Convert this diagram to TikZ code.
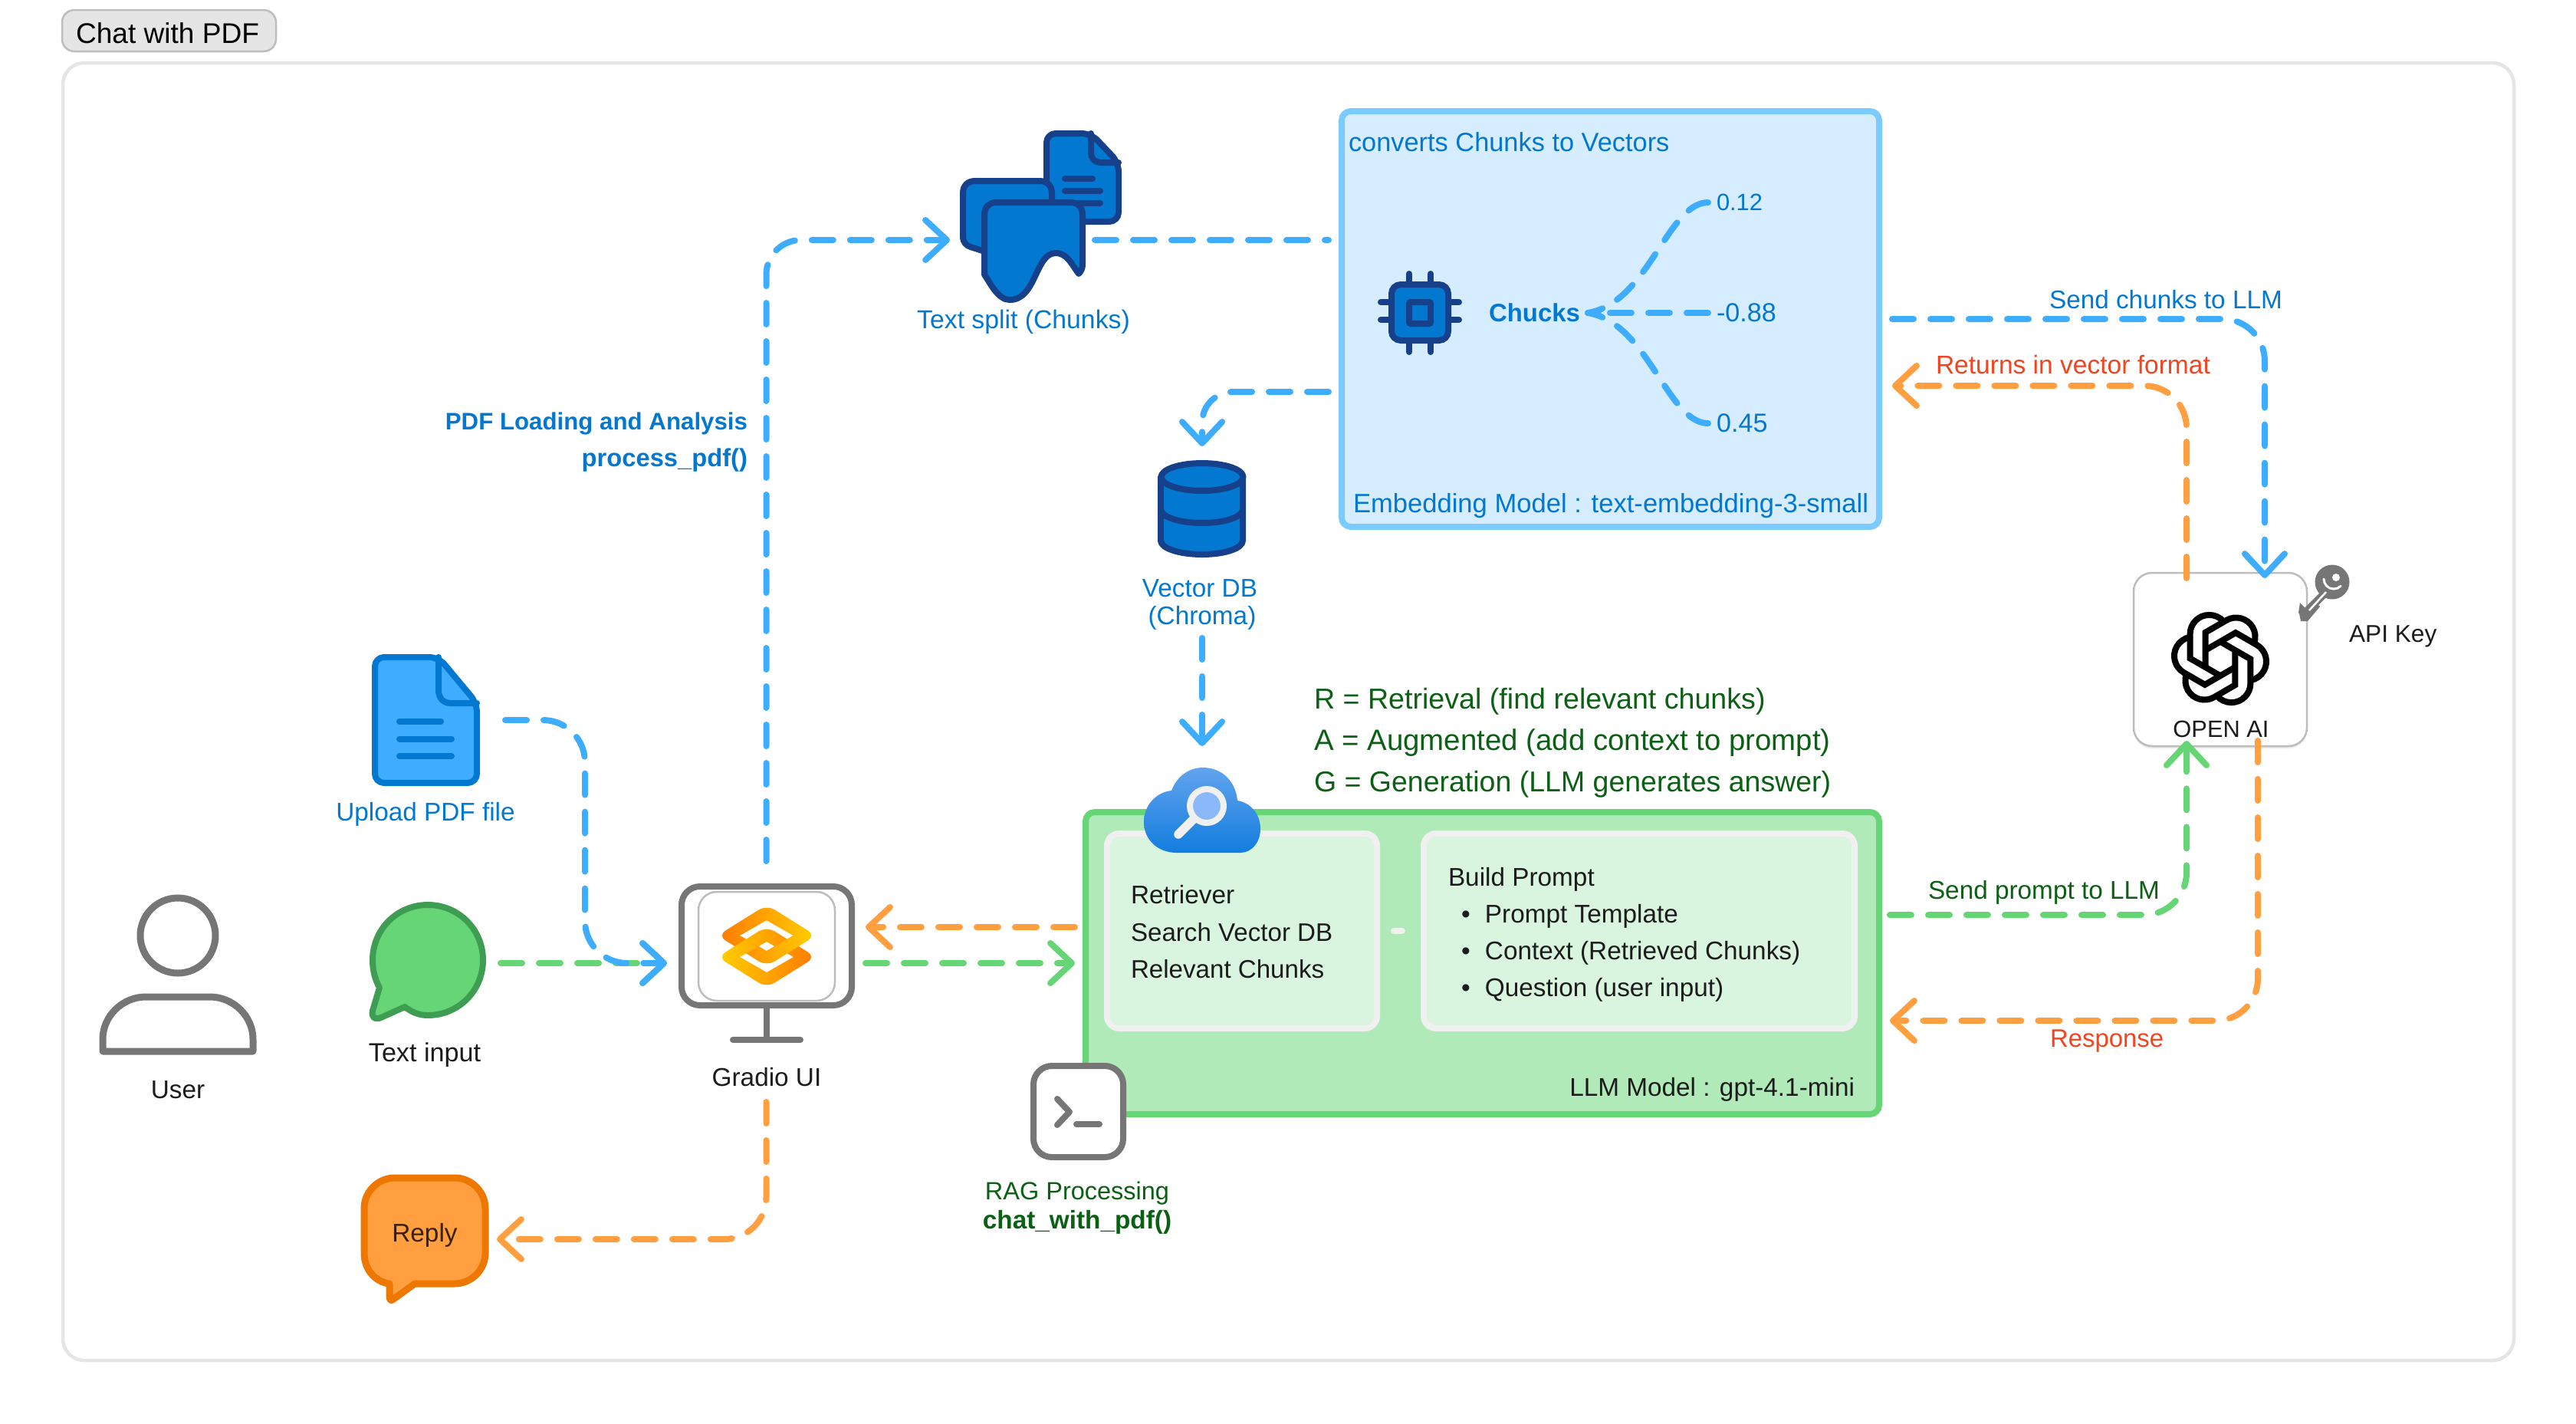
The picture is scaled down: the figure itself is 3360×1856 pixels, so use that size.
\documentclass[tikz,border=0pt]{standalone}
\usepackage{fontspec}
\setmainfont{Liberation Sans}
\usetikzlibrary{arrows.meta,shadows,shapes.geometric}
\newcommand{\px}[1]{#1*0.24pt}
\newcommand{\fs}[1]{\fontsize{#1}{10}\selectfont}
\definecolor{flowblue}{HTML}{3FADFF}
\definecolor{floworange}{HTML}{FF9F40}
\definecolor{flowgreen}{HTML}{66D575}
\definecolor{txtblue}{HTML}{0378D0}
\definecolor{txtgreen}{HTML}{0B6014}
\definecolor{txtred}{HTML}{F1441F}
\definecolor{txtdark}{HTML}{1C1C1C}
\definecolor{icongray}{HTML}{767676}
\definecolor{navyicon}{HTML}{16408A}
\definecolor{embedfill}{HTML}{D6ECFF}
\definecolor{embedline}{HTML}{7CCBFF}
\definecolor{llmfill}{HTML}{B0EAB8}
\definecolor{innerfill}{HTML}{D9F4DF}
\definecolor{innerline}{HTML}{F0F0F0}
\definecolor{bubbleline}{HTML}{3F9D53}
\definecolor{replyline}{HTML}{EE7700}
\definecolor{replytext}{HTML}{3B2006}
\definecolor{logoorange}{HTML}{FF7A00}
\definecolor{logoyellow}{HTML}{FFCF00}
\definecolor{cloudtop}{HTML}{62A3EE}
\definecolor{cloudbottom}{HTML}{127DDE}
\definecolor{lensfill}{HTML}{8AB8F8}
\tikzset{
  port/.style={inner sep=0pt,outer sep=0pt,draw=none,fill=none},
  flow/.style={line width=\px{8},line cap=round,dash pattern=on 6.72pt off 5.28pt,rounded corners=\px{55},
    -{Straight Barb[length=6.7pt,width=12.5pt,round]}},
  bigbox/.style={rounded corners=\px{12},line width=\px{8},inner sep=0pt},
  innerbox/.style={rounded corners=\px{16},line width=\px{8},draw=innerline,fill=innerfill,inner sep=0pt},
  lbl/.style={inner sep=0pt,outer sep=0pt,font=\fs{8}},
  iconline/.style={line width=\px{8},line cap=round,line join=round},
}
\begin{document}
\begin{tikzpicture}[x=0.24pt,y=-0.24pt]
\useasboundingbox (0,0) rectangle (3360,1856);
% title and frame
\node[draw=black!26,fill=black!10,line width=\px{2.5},rounded corners=\px{16},minimum width=\px{279},minimum height=\px{54},inner sep=0pt] (titlebox) at (220.5,40) {};
\node[lbl,anchor=base west,text=black,font=\fs{8.9}] (title) at (99,56) {Chat with PDF};
\node[draw=black!10,line width=\px{4.5},rounded corners=\px{28},minimum width=\px{3197},minimum height=\px{1692},inner sep=0pt] (frame) at (1680.5,928) {};

% big boxes
\node[bigbox,outer sep=\px{17},draw=embedline,fill=embedfill,minimum width=\px{701},minimum height=\px{542}] (embed) at (2100.5,416) {};
\node[bigbox,outer sep=\px{14},draw=flowgreen,fill=llmfill,minimum width=\px{1035},minimum height=\px{394}] (llm) at (1933.5,1256) {};
\node[innerbox,minimum width=\px{352},minimum height=\px{254}] (retr) at (1620,1214) {};
\node[innerbox,minimum width=\px{562},minimum height=\px{254}] (prompt) at (2138,1214) {};
\draw[line width=\px{8},line cap=round,draw=innerline,dash pattern=on 2.6pt off 3.2pt,shorten <=\px{18},shorten >=\px{17}] (retr.east) -- (prompt.west);

% connector ports (invisible node boxes matching where connectors end)
\node[port,minimum width=\px{259},minimum height=\px{314}] (gradio) at (999.5,1280) {};
\node[port,minimum width=\px{189},minimum height=\px{286}] (docs) at (1333.5,313) {};
\node[port,minimum width=\px{115},minimum height=\px{250}] (vdb) at (1568,707) {};
\node[port,minimum width=\px{151},minimum height=\px{139}] (cloud) at (1568,1042.5) {};
\node[port,minimum width=\px{174},minimum height=\px{172}] (upload) at (572,939) {};
\node[port,minimum width=\px{170},minimum height=\px{156}] (bubble) at (568,1256) {};
\node[port,minimum width=\px{177},minimum height=\px{160}] (reply) at (559.5,1616) {};
\node[draw=black!26,fill=white,line width=\px{2.5},rounded corners=\px{24},minimum width=\px{226},minimum height=\px{226},inner sep=0pt,outer sep=0pt,drop shadow={shadow xshift=0pt,shadow yshift=-0.8pt,opacity=.07,fill=black}] (openai) at (2896,860) {};

% blue connectors
\draw[flow,draw=flowblue,rounded corners=\px{45}] (gradio.north) |- (docs.west);
\draw[flow,draw=flowblue,-] (docs.east) -- ([yshift=\px{103}]embed.west);
\draw[flow,draw=flowblue,rounded corners=\px{40}] ([yshift=\px{-95}]embed.west) -| (vdb.north);
\draw[flow,draw=flowblue] (vdb.south) -- (cloud.north);
\draw[flow,draw=flowblue,shorten >=\px{-7}] (embed.east) -| ([xshift=\px{58}]openai.north);
% green connectors
\draw[flow,draw=flowgreen] (bubble.east) -- ([yshift=\px{24}]gradio.west);
\draw[flow,draw=flowblue] (upload.east) -| ([xshift=\px{-107},yshift=\px{24}]gradio.west) -- ([yshift=\px{24}]gradio.west);
\draw[flow,draw=flowgreen] ([yshift=\px{24}]gradio.east) -- (llm.west);
\draw[flow,draw=flowgreen,shorten >=\px{-7}] ([yshift=\px{63}]llm.east) -| ([xshift=\px{-44}]openai.south);
% orange connectors
\draw[flow,draw=floworange] ([yshift=\px{47}]llm.west) -- ([yshift=\px{71}]gradio.east);
\draw[flow,draw=floworange] (gradio.south) |- (reply.east);
\draw[flow,draw=floworange,shorten <=\px{-7}] ([xshift=\px{-44}]openai.north) |- ([yshift=\px{-87}]embed.east);
\draw[flow,draw=floworange,shorten <=\px{-7}] ([xshift=\px{49}]openai.south) |- ([yshift=\px{-75}]llm.east);

% user
\draw[draw=icongray,line width=\px{9}] (232,1220) circle[radius=\px{49}];
\draw[draw=icongray,line width=\px{9},line join=round] (134,1371) -- (134,1355) .. controls (134,1325) and (160,1300) .. (190,1300) -- (274,1300) .. controls (304,1300) and (330,1325) .. (330,1355) -- (330,1371) -- cycle;
\node[lbl,anchor=base,text=txtdark] (userlbl) at (232,1432) {User};

% upload document
\draw[iconline,draw=txtblue,fill=flowblue,rounded corners=\px{12}] (489,857) -- (572,857) -- (622,917) -- (622,1021) -- (489,1021) -- cycle;
\draw[iconline,draw=txtblue] (572,857) -- (572,900) .. controls (572,910) and (578,917) .. (588,917) -- (622,917);
\draw[iconline,draw=txtblue] (521,940.5) -- (575,940.5);
\draw[iconline,draw=txtblue] (521,963.5) -- (589,963.5);
\draw[iconline,draw=txtblue] (521,986) -- (589,986);
\node[lbl,anchor=base,text=txtblue] (uploadlbl) at (555,1070) {Upload PDF file};

% text input bubble
\draw[iconline,draw=bubbleline,fill=flowgreen] (528,1313) .. controls (537,1320) and (547,1324) .. (558,1324) .. controls (598,1324) and (630,1292) .. (630,1252) .. controls (630,1212) and (598,1180) .. (558,1180) .. controls (518,1180) and (486,1212) .. (486,1252) .. controls (486,1265) and (489,1277) .. (495,1288) -- (486,1318) .. controls (484,1328) and (490,1330) .. (497,1327) -- cycle;
\node[lbl,anchor=base,text=txtdark,font=\fs{8.2}] (textlbl) at (554,1384) {Text input};

% reply bubble
\draw[line width=\px{9},line join=round,draw=replyline,fill=floworange] (515,1536) -- (593,1536) .. controls (615,1536) and (633,1554) .. (633,1576) -- (633,1634) .. controls (633,1656) and (615,1674) .. (593,1674) -- (541,1674) -- (512,1695) .. controls (509,1697) and (508,1693) .. (508,1690) -- (508,1674) .. controls (490,1672) and (475,1656) .. (475,1634) -- (475,1576) .. controls (475,1554) and (493,1536) .. (515,1536) -- cycle;
\node[lbl,anchor=base,text=replytext] (replylbl) at (554,1619) {Reply};

% gradio monitor
\node[draw=icongray,fill=white,line width=\px{8},rounded corners=\px{24},minimum width=\px{222},minimum height=\px{155},inner sep=0pt] (screen) at (1000,1233.5) {};
\draw[draw=icongray,line width=\px{8}] (screen.south) -- (1000,1356);
\draw[draw=icongray,line width=\px{8},line cap=round] (956,1356) -- (1044,1356);
\node[draw=black!26,fill=white,line width=\px{2.5},rounded corners=\px{24},minimum width=\px{178},minimum height=\px{142},inner sep=0pt] (gradioinner) at (1000,1234) {};
\path[left color=logoorange,right color=logoyellow,even odd rule] [rounded corners=\px{12}] (1000,1180) -- (1064,1220) -- (1000,1260) -- (936,1220) -- cycle [sharp corners] (1000,1200) -- (1035,1220) -- (1000,1240) -- (965,1220) -- cycle;
\path[left color=logoyellow,right color=logoorange,even odd rule] [rounded corners=\px{12}] (1000,1208) -- (1064,1248) -- (1000,1288) -- (936,1248) -- cycle [sharp corners] (1000,1228) -- (1035,1248) -- (1000,1268) -- (965,1248) -- cycle;
\begin{scope}
\clip (1000,1170) rectangle (1080,1300);
\path[left color=logoorange,right color=logoyellow,even odd rule] [rounded corners=\px{12}] (1000,1180) -- (1064,1220) -- (1000,1260) -- (936,1220) -- cycle [sharp corners] (1000,1200) -- (1035,1220) -- (1000,1240) -- (965,1220) -- cycle;
\end{scope}
\node[lbl,anchor=base,text=txtdark] (gradiolbl) at (1000,1416) {Gradio UI};

% PDF labels
\node[lbl,anchor=base east,text=txtblue,font=\fs{7.5}\bfseries] (pdfa) at (975,560) {PDF Loading and Analysis};
\node[lbl,anchor=base east,text=txtblue,font=\fs{7.85}\bfseries] (pdfb) at (975,608) {process\_pdf()};

% documents icon
\draw[iconline,draw=navyicon,fill=txtblue,rounded corners=\px{12}] (1365,174) -- (1423,174) -- (1459,212) -- (1459,289) -- (1365,289) -- cycle;
\draw[iconline,draw=navyicon] (1423,174) -- (1423,198) .. controls (1423,207) and (1428,212) .. (1437,212) -- (1459,212);
\draw[iconline,draw=navyicon] (1389,233) -- (1425,233);
\draw[iconline,draw=navyicon] (1389,249) -- (1435,249);
\draw[iconline,draw=navyicon] (1389,265) -- (1435,265);
\draw[iconline,draw=navyicon,fill=txtblue] (1372,300) -- (1372,252) .. controls (1372,242) and (1366,236) .. (1356,236) -- (1272,236) .. controls (1262,236) and (1256,242) .. (1256,252) -- (1256,308) .. controls (1256,316) and (1260,320) .. (1266,322) -- (1300,333) -- cycle;
\draw[iconline,draw=navyicon,fill=txtblue] (1300,264) -- (1396,264) .. controls (1406,264) and (1412,270) .. (1412,280) -- (1412,345) .. controls (1412,350) and (1410,354) .. (1407,357) .. controls (1398,345) and (1392,330) .. (1377,330) .. controls (1350,330) and (1352,391) .. (1317,391) .. controls (1302,391) and (1292,370) .. (1284,358) -- (1284,280) .. controls (1284,270) and (1290,264) .. (1300,264) -- cycle;
\node[lbl,anchor=base,text=txtblue,font=\fs{8.1}] (splitlbl) at (1335,428) {Text split (Chunks)};

% embedding contents
\node[lbl,anchor=base west,text=txtblue,font=\fs{8.25}] (convlbl) at (1759,197) {converts Chunks to Vectors};
\node[lbl,anchor=base west,text=txtblue,font=\fs{8.3}] (emblbl) at (1765,668) {Embedding Model : text-embedding-3-small};
\foreach \cx in {1838,1866} {\draw[iconline,draw=navyicon] (\cx,357) -- (\cx,459);}
\foreach \cy in {394,417} {\draw[iconline,draw=navyicon] (1801,\cy) -- (1903,\cy);}
\node[draw=navyicon,fill=txtblue,line width=\px{8},rounded corners=\px{12},minimum width=\px{74},minimum height=\px{73},inner sep=0pt] (chip) at (1852,407.5) {};
\node[draw=navyicon,fill=txtblue,line width=\px{8},minimum width=\px{28},minimum height=\px{28},inner sep=0pt,rounded corners=\px{2}] (chipcore) at (1852,408) {};
\node[lbl,anchor=east,text=txtblue,font=\fs{7.9}\bfseries,inner xsep=0pt,outer xsep=\px{10}] (chucks) at (2071,408) {Chucks};
\node[lbl,anchor=west,text=txtblue,font=\fs{7.4},inner xsep=\px{11}] (va) at (2228,264) {0.12};
\node[lbl,anchor=west,text=txtblue,font=\fs{8.2},inner xsep=\px{11}] (vb) at (2228,408) {-0.88};
\node[lbl,anchor=west,text=txtblue,font=\fs{8.2},inner xsep=\px{11}] (vc) at (2228,552) {0.45};
\draw[flow,draw=flowblue,-] (va.west) .. controls (2175,264) and (2150,395) .. (chucks.east);
\draw[flow,draw=flowblue,-] (vc.west) .. controls (2175,552) and (2150,421) .. (chucks.east);
\draw[flow,draw=flowblue,-{Stealth[length=7.2pt,width=4pt,inset=1pt,round]}] (vb.west) -- (chucks.east);

% vector DB cylinder
\draw[iconline,draw=navyicon,fill=txtblue] (1514,622) -- (1514,705) .. controls (1514,715) and (1538,723) .. (1568,723) .. controls (1598,723) and (1621,715) .. (1621,705) -- (1621,622) -- cycle;
\draw[iconline,draw=navyicon,fill=txtblue] (1568,622) ellipse[x radius=\px{53.5},y radius=\px{18}];
\draw[iconline,draw=navyicon] (1514,664) .. controls (1514,674) and (1538,682) .. (1568,682) .. controls (1598,682) and (1621,674) .. (1621,664);
\node[lbl,anchor=base,text=txtblue] (vdba) at (1565,778) {Vector DB};
\node[lbl,anchor=base,text=txtblue] (vdbb) at (1568,814) {(Chroma)};

% RAG text
\node[lbl,anchor=base west,text=txtgreen,font=\fs{9.03}] (ra) at (1714,924) {R = Retrieval (find relevant chunks)};
\node[lbl,anchor=base west,text=txtgreen,font=\fs{9.22}] (rb) at (1714,978) {A = Augmented (add context to prompt)};
\node[lbl,anchor=base west,text=txtgreen,font=\fs{9}] (rc) at (1714,1032) {G = Generation (LLM generates answer)};

% retriever and prompt text
\node[lbl,anchor=base west,text=txtdark] (ta) at (1475,1178) {Retriever};
\node[lbl,anchor=base west,text=txtdark,font=\fs{7.95}] (tb) at (1475,1227) {Search Vector DB};
\node[lbl,anchor=base west,text=txtdark,font=\fs{7.95}] (tc) at (1475,1275) {Relevant Chunks};
\node[lbl,anchor=base west,text=txtdark] (pa) at (1889,1155) {Build Prompt};
\node[lbl,anchor=base west,text=txtdark] (pb) at (1937,1203) {\llap{\textbullet\hspace{4.6pt}}Prompt Template};
\node[lbl,anchor=base west,text=txtdark] (pc) at (1937,1251) {\llap{\textbullet\hspace{4.6pt}}Context (Retrieved Chunks)};
\node[lbl,anchor=base west,text=txtdark] (pd) at (1937,1299) {\llap{\textbullet\hspace{4.6pt}}Question (user input)};
\node[lbl,anchor=base east,text=txtdark] (llmlbl) at (2419,1429) {LLM Model : gpt-4.1-mini};

% cloud search icon
\shade[top color=cloudtop,bottom color=cloudbottom] (1535,1112) .. controls (1510,1112) and (1492,1095) .. (1492,1072) .. controls (1492,1050) and (1508,1033) .. (1528,1031) .. controls (1535,1013) and (1550,1001) .. (1569,1001) .. controls (1595,1001) and (1612,1020) .. (1614,1044) .. controls (1632,1047) and (1644,1062) .. (1644,1081) .. controls (1644,1098) and (1633,1112) .. (1618,1112) -- cycle;
\draw[innerline,line width=\px{11.5},line cap=round] (1557,1068) -- (1537,1088);
\draw[innerline,fill=lensfill,line width=\px{8}] (1574,1051) circle[radius=\px{22}];

% terminal
\node[draw=icongray,fill=white,line width=\px{8},rounded corners=\px{24},minimum width=\px{117},minimum height=\px{119},inner sep=0pt] (term) at (1406.5,1449.5) {};
\draw[iconline,draw=icongray] (1379,1433) -- (1395,1450) -- (1379,1467);
\draw[iconline,draw=icongray] (1404,1466) -- (1434,1466);
\node[lbl,anchor=base,text=txtgreen,font=\fs{7.8}] (raga) at (1405,1564) {RAG Processing};
\node[lbl,anchor=base,text=txtgreen,font=\fs{8}\bfseries] (ragb) at (1405,1602) {chat\_with\_pdf()};

% connector labels
\node[lbl,anchor=base west,text=txtblue] (l1) at (2673,402) {Send chunks to LLM};
\node[lbl,anchor=base west,text=txtred,font=\fs{8.05}] (l2) at (2525,487) {Returns in vector format};
\node[lbl,anchor=base west,text=txtgreen] (l3) at (2515,1172) {Send prompt to LLM};
\node[lbl,anchor=base west,text=txtred,font=\fs{7.9}] (l4) at (2674,1365) {Response};

% OpenAI logo
\begin{scope}[shift={(2896,859)},x=0.24pt,y=0.24pt]
\foreach \k in {0,60,...,300} {
  \draw[black,line width=\px{8},rotate=\k] (-19.3,-11.7) -- (-19.3,34.3) -- (8.1,50.2) arc[start angle=120,end angle=-19,radius=6pt];
}
\end{scope}
\node[lbl,anchor=base,text=txtdark,font=\fs{7.4}] (openlbl) at (2897,961) {OPEN AI};

% key
\fill[icongray] (3042,759) circle[radius=\px{22.5}];
\draw[icongray,line width=\px{10}] (3030,776) -- (3005,801);
\fill[icongray] (3000,786) -- (3010,796) -- (3021,786) -- (3026,791) -- (3010,810) -- (3001,810) -- (2999,800) -- (2998,799) -- cycle;
\draw[white,line width=\px{2.5}] (3034,772) -- (3012,796);
\fill[white] (3047,753) circle[radius=\px{5}];
\draw[white,line width=\px{3},line cap=round] (3031,755) arc[start angle=180,end angle=315,radius=\px{13}];
\node[lbl,anchor=base west,text=txtdark,font=\fs{7.6}] (apilbl) at (3064,837) {API Key};
\end{tikzpicture}
\end{document}
